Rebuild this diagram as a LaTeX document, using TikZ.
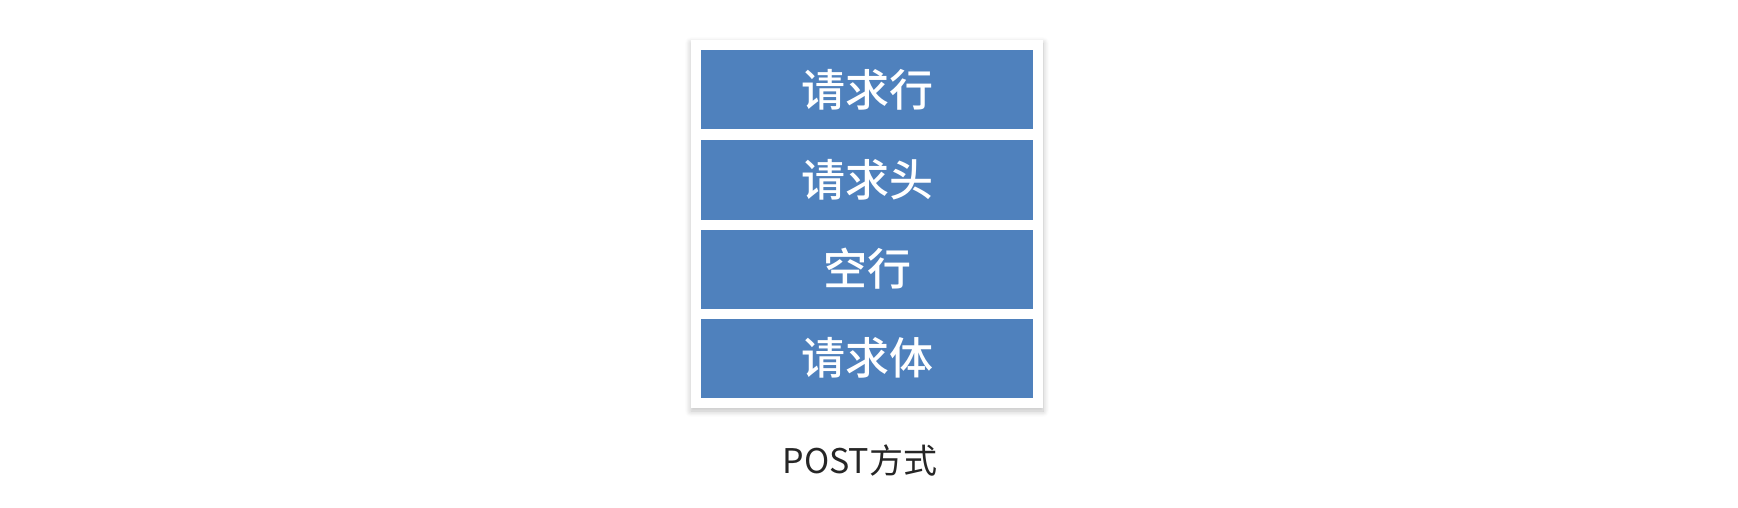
\documentclass[tikz,border=0pt]{standalone}
\usepackage{fontspec}
\setmainfont{Noto Sans CJK SC}
\newfontfamily\boxfont{Noto Sans CJK SC Medium}
\usetikzlibrary{shadows.blur}
\definecolor{boxblue}{HTML}{4F81BD}
\definecolor{captext}{HTML}{262626}
\begin{document}
\begin{tikzpicture}[x=1pt,y=-1pt,
  panel/.style={fill=white,draw=none,blur shadow={shadow xshift=0pt,shadow yshift=-3pt,shadow blur radius=6pt,shadow blur steps=10,shadow opacity=25}},
  fieldbox/.style={fill=boxblue,draw=none,minimum width=332pt,minimum height=79pt,inner sep=0pt,text=white,font=\boxfont\fontsize{44}{50}\selectfont},
  caption/.style={text=captext,inner sep=0pt,font=\fontsize{34}{40}\selectfont}]
\useasboundingbox (0,0) rectangle (1738,508);
\fill[panel] (691,40) rectangle (1043,408);
\node[fieldbox] (line) at (867,90) {请求行};
\node[fieldbox] (head) at (867,180) {请求头};
\node[fieldbox] (blank) at (867,269) {空行};
\node[fieldbox] (body) at (867,358) {请求体};
\node[caption] (cap) at (860,461) {POST方式};
\end{tikzpicture}
\end{document}
